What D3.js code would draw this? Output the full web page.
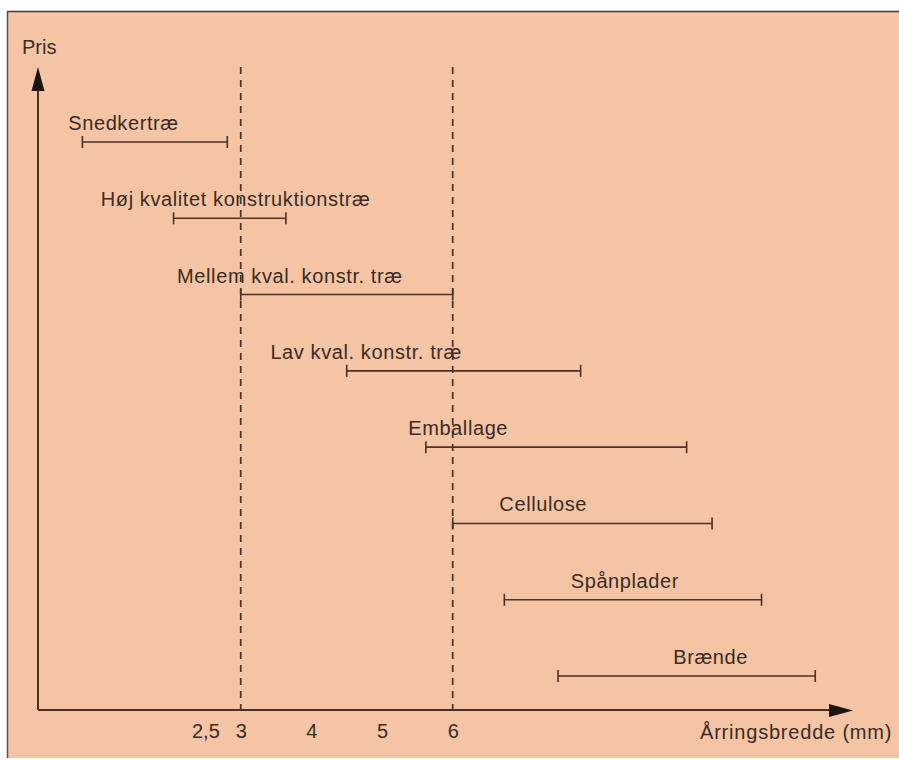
<!DOCTYPE html>
<html><head><meta charset="utf-8">
<script src="https://cdn.jsdelivr.net/npm/d3@7"></script>
<style>
html,body{margin:0;padding:0;background:#fff;}
svg{display:block;}
text{font-family:"Liberation Sans",Arial,Helvetica,sans-serif;fill:#3a2c25;}
</style></head>
<body>
<svg id="chart" width="899" height="760"></svg>
<script>
// Data (ring width in mm)
const categories = ["Snedkertræ","Høj kvalitet konstruktionstræ","Mellem kval. konstr. træ","Lav kval. konstr. træ","Emballage","Cellulose","Spånplader","Brænde"];
const rangeMin = [0.76, 2.05, 3.0, 4.5, 5.62, 6.0, 6.73, 7.49];
const rangeMax = [2.81, 3.64, 6.0, 7.81, 9.31, 9.67, 10.37, 11.13];
const labelAt  = [0.56, 1.02, 2.10, 3.42, 5.37, 6.66, 7.67, 9.12];
const tickValues = [2.5, 3, 4, 5, 6];
const tickLabels = ["2,5", "3", "4", "5", "6"];
const guideValues = [3, 6];
const xTitle = "Årringsbredde (mm)";
const yTitle = "Pris";

const svg = d3.select("#chart");
const W = 899, H = 760;
const bg = "#f4c4a4", ink = "#4a3128", arrowInk = "#1c1410";

// panel
svg.append("rect").attr("x",7).attr("y",11).attr("width",W-7).attr("height",747).attr("fill",bg);
svg.append("line").attr("x1",7).attr("x2",W).attr("y1",11.5).attr("y2",11.5).attr("stroke","#4a3a34").attr("stroke-width",1.5);
svg.append("line").attr("x1",7.5).attr("x2",7.5).attr("y1",11).attr("y2",758).attr("stroke","#5a5050").attr("stroke-width",1.5);

const x = d3.scaleLinear().domain([0, 12]).range([28.7, 28.7 + 12*70.67]);
const y = d3.scalePoint().domain(categories).range([142, 676]);

const axisY = 710, axisX = 38, topY = 67, rightX = 853;

// dashed guides
svg.selectAll("line.guide").data(guideValues).join("line")
  .attr("class","guide")
  .attr("x1", d=>x(d)).attr("x2", d=>x(d))
  .attr("y1", topY).attr("y2", axisY)
  .attr("stroke", ink).attr("stroke-width",1.7).attr("stroke-dasharray","7,6");

// axes
svg.append("line").attr("x1",axisX).attr("x2",axisX).attr("y1",axisY).attr("y2",topY+20)
  .attr("stroke",ink).attr("stroke-width",2);
svg.append("line").attr("x1",axisX).attr("x2",rightX-20).attr("y1",axisY).attr("y2",axisY)
  .attr("stroke",ink).attr("stroke-width",2);
svg.append("path").attr("d",`M${axisX},${topY} L${axisX-6.5},${topY+24} L${axisX+6.5},${topY+24} Z`).attr("fill",arrowInk);
svg.append("path").attr("d",`M${rightX},${axisY+0.5} L${rightX-24},${axisY-6} L${rightX-24},${axisY+7} Z`).attr("fill",arrowInk);

// tick labels via axis
const ax = d3.axisBottom(x).tickValues(tickValues).tickFormat((d,i)=>tickLabels[i]).tickSize(0).tickPadding(0);
const gAx = svg.append("g").attr("transform",`translate(0,${axisY})`).call(ax);
gAx.select(".domain").remove();
gAx.selectAll("text").attr("dy",null).attr("y",28)
  .style("font-family",'"Liberation Sans",Arial,sans-serif').style("font-size","20px").attr("fill","#3a2c25");

// titles
svg.append("text").attr("x",22).attr("y",54).style("font-size","20px").text(yTitle);
svg.append("text").attr("x",700).attr("y",739).style("font-size","20px").style("letter-spacing","0.8px").text(xTitle);

// ranges
const rows = categories.map((c,i)=>({c, a:rangeMin[i], b:rangeMax[i], l:labelAt[i]}));
const g = svg.append("g");
g.selectAll("line.bar").data(rows).join("line").attr("class","bar")
  .attr("x1",d=>x(d.a)).attr("x2",d=>x(d.b)).attr("y1",d=>y(d.c)).attr("y2",d=>y(d.c))
  .attr("stroke",ink).attr("stroke-width",1.6);
g.selectAll("line.capL").data(rows).join("line").attr("class","capL")
  .attr("x1",d=>x(d.a)).attr("x2",d=>x(d.a)).attr("y1",d=>y(d.c)-6).attr("y2",d=>y(d.c)+6)
  .attr("stroke",ink).attr("stroke-width",1.6);
g.selectAll("line.capR").data(rows).join("line").attr("class","capR")
  .attr("x1",d=>x(d.b)).attr("x2",d=>x(d.b)).attr("y1",d=>y(d.c)-6).attr("y2",d=>y(d.c)+6)
  .attr("stroke",ink).attr("stroke-width",1.6);
g.selectAll("text.lab").data(rows).join("text").attr("class","lab")
  .attr("x",d=>x(d.l)).attr("y",d=>y(d.c)-12)
  .style("font-size","20px").style("letter-spacing","0.6px")
  .text(d=>d.c);
</script>
</body></html>
